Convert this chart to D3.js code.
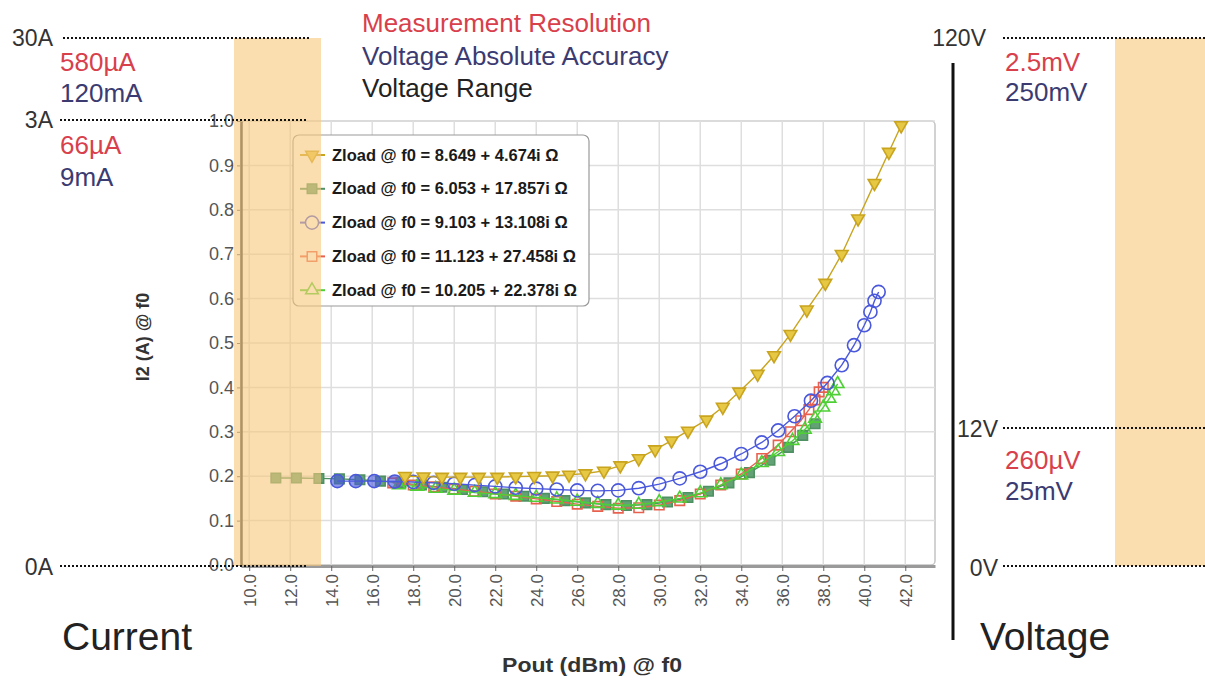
<!DOCTYPE html>
<html>
<head>
<meta charset="utf-8">
<script src="https://cdn.jsdelivr.net/npm/d3@7"></script>
<style>
  body { margin: 0; background: #fff; }
  svg { display: block; font-family: "Liberation Sans", Arial, sans-serif; }
</style>
</head>
<body>
<svg id="chart" width="1205" height="691"></svg>
<script>
// Axis ticks
const xTicks = [10, 12, 14, 16, 18, 20, 22, 24, 26, 28, 30, 32, 34, 36, 38, 40, 42];
const yTicks = [0, 0.1, 0.2, 0.3, 0.4, 0.5, 0.6, 0.7, 0.8, 0.9, 1.0];

// Legend labels
const seriesNames = [
  "Zload @ f0 = 8.649 + 4.674i Ω",
  "Zload @ f0 = 6.053 + 17.857i Ω",
  "Zload @ f0 = 9.103 + 13.108i Ω",
  "Zload @ f0 = 11.123 + 27.458i Ω",
  "Zload @ f0 = 10.205 + 22.378i Ω"
];

// Series 1 (yellow, down triangles)
const s1Pout = [17.6, 18.5, 19.4, 20.3, 21.2, 22.1, 23.0, 23.9, 24.8, 25.6, 26.4, 27.3, 28.1, 29.0, 29.8,
                30.6, 31.4, 32.3, 33.1, 33.9, 34.8, 35.6, 36.4, 37.2, 38.1, 38.9, 39.7, 40.5, 41.2, 41.8];
const s1I2   = [0.200, 0.199, 0.198, 0.198, 0.198, 0.198, 0.199, 0.200, 0.201, 0.203, 0.206, 0.212, 0.224, 0.240, 0.260,
                0.280, 0.302, 0.327, 0.356, 0.390, 0.430, 0.472, 0.520, 0.575, 0.635, 0.700, 0.780, 0.860, 0.930, 0.990];

// Series 2 (green, filled squares)
const s2Pout = [11.3, 12.3, 13.4, 14.4, 15.4, 16.4, 17.4, 18.4, 19.4, 20.4, 21.4, 22.4, 23.4, 24.4, 25.4, 26.4,
                27.4, 28.4, 29.4, 30.4, 31.4, 32.4, 33.4, 34.4, 35.4, 36.3, 37.0, 37.6];
const s2I2   = [0.196, 0.196, 0.195, 0.194, 0.192, 0.189, 0.185, 0.180, 0.175, 0.170, 0.165, 0.160, 0.155, 0.150, 0.145, 0.140,
                0.136, 0.134, 0.136, 0.142, 0.152, 0.166, 0.185, 0.208, 0.236, 0.265, 0.292, 0.318];

// Series 3 (blue, open circles)
const s3Pout = [14.3, 15.2, 16.1, 17.1, 18.0, 19.0, 20.0, 21.0, 22.0, 23.0, 24.0, 25.0, 26.0, 27.0, 28.0, 29.0,
                30.0, 31.0, 32.0, 33.0, 34.0, 35.0, 35.8, 36.6, 37.4, 38.2, 38.9, 39.5, 40.0, 40.3, 40.5, 40.7];
const s3I2   = [0.189, 0.189, 0.189, 0.188, 0.187, 0.185, 0.183, 0.180, 0.177, 0.174, 0.172, 0.170, 0.168, 0.167, 0.168, 0.173,
                0.182, 0.195, 0.210, 0.228, 0.250, 0.276, 0.303, 0.335, 0.370, 0.410, 0.450, 0.495, 0.540, 0.570, 0.595, 0.615];

// Series 4 (red, open squares)
const s4Pout = [17.0, 18.0, 19.0, 20.0, 21.0, 22.0, 23.0, 24.0, 25.0, 26.0, 27.0, 28.0, 29.0, 30.0, 31.0, 32.0,
                33.0, 34.0, 35.0, 35.8, 36.4, 36.9, 37.3, 37.6, 37.8, 38.0];
const s4I2   = [0.185, 0.180, 0.176, 0.171, 0.166, 0.160, 0.155, 0.149, 0.143, 0.137, 0.132, 0.128, 0.129, 0.135, 0.145, 0.160,
                0.180, 0.205, 0.240, 0.270, 0.300, 0.325, 0.350, 0.372, 0.390, 0.400];

// Series 5 (light green, open triangles)
const s5Pout = [17.3, 18.2, 19.1, 20.0, 21.0, 22.0, 23.0, 24.0, 25.0, 26.0, 27.0, 28.0, 29.0, 30.0, 31.0, 32.0,
                33.0, 34.0, 35.0, 35.8, 36.5, 37.1, 37.6, 38.0, 38.3, 38.5, 38.7];
const s5I2   = [0.180, 0.177, 0.172, 0.168, 0.163, 0.160, 0.156, 0.152, 0.148, 0.143, 0.138, 0.134, 0.136, 0.142, 0.150, 0.162,
                0.180, 0.202, 0.230, 0.255, 0.280, 0.305, 0.330, 0.355, 0.375, 0.392, 0.408];

const svg = d3.select("#chart");

const x = d3.scaleLinear().domain([9.6, 43.45]).range([241, 935]);
const y = d3.scaleLinear().domain([0, 1]).range([565, 121]);

const zip = (a, b) => a.map((v, i) => [v, b[i]]);

const series = [
  { name: seriesNames[0], data: zip(s1Pout, s1I2), color: "#c9a41f", fill: "#e6c844", shape: "down" },
  { name: seriesNames[1], data: zip(s2Pout, s2I2), color: "#4f9162", fill: "#62a274", shape: "fsquare" },
  { name: seriesNames[2], data: zip(s3Pout, s3I2), color: "#4a58dc", fill: "none", shape: "circle" },
  { name: seriesNames[3], data: zip(s4Pout, s4I2), color: "#e8614f", fill: "none", shape: "square" },
  { name: seriesNames[4], data: zip(s5Pout, s5I2), color: "#4fcf36", fill: "none", shape: "up" }
];

function symbolPath(shape) {
  if (shape === "down" || shape === "up") return d3.symbol().type(d3.symbolTriangle).size(70)();
  if (shape === "circle") return d3.symbol().type(d3.symbolCircle).size(135)();
  return d3.symbol().type(d3.symbolSquare).size(90)();
}

// plot background + grid
svg.append("rect").attr("x", 241).attr("y", 121).attr("width", 694).attr("height", 444)
  .attr("fill", "#fff").attr("stroke", "#c4c4c4").attr("stroke-width", 1.5).attr("rx", 4);

svg.append("g").selectAll("line").data(xTicks).join("line")
  .attr("x1", d => x(d)).attr("x2", d => x(d)).attr("y1", 121).attr("y2", 565)
  .attr("stroke", "#dedede").attr("stroke-width", 1.5);
svg.append("g").selectAll("line").data(yTicks.slice(1)).join("line")
  .attr("x1", 241).attr("x2", 935).attr("y1", d => y(d)).attr("y2", d => y(d))
  .attr("stroke", "#dedede").attr("stroke-width", 1.5);

// axes
const xAxis = svg.append("g").attr("transform", "translate(0,566)")
  .call(d3.axisBottom(x).tickValues(xTicks).tickFormat(d3.format(".1f")).tickSize(5).tickSizeOuter(0));
xAxis.select(".domain").attr("stroke", "#9a9a9a").attr("stroke-width", 3);
xAxis.selectAll(".tick line").attr("stroke", "#666");
xAxis.selectAll("text")
  .attr("transform", "rotate(-90)").attr("text-anchor", "end")
  .attr("x", -8).attr("y", 0).attr("dy", "0.35em")
  .attr("font-size", 17).attr("fill", "#555").attr("font-family", "Liberation Sans, Arial, sans-serif");

const yAxis = svg.append("g").attr("transform", "translate(241,0)")
  .call(d3.axisLeft(y).tickValues(yTicks).tickFormat(d3.format(".1f")).tickSize(4).tickSizeOuter(0));
yAxis.select(".domain").attr("stroke", "#444").attr("stroke-width", 2.5);
yAxis.selectAll(".tick line").attr("stroke", "#666");
yAxis.selectAll("text").attr("font-size", 18).attr("fill", "#555")
  .attr("font-family", "Liberation Sans, Arial, sans-serif");

// series lines and markers (draw order so blue/yellow sit on top)
const drawOrder = [1, 3, 4, 2, 0];
const line = d3.line().x(d => x(d[0])).y(d => y(d[1]));
drawOrder.forEach(i => {
  const s = series[i];
  const g = svg.append("g");
  g.append("path").datum(s.data).attr("d", line)
    .attr("fill", "none").attr("stroke", s.color).attr("stroke-width", 1.4);
  g.selectAll("path.m").data(s.data).join("path").attr("class", "m")
    .attr("d", symbolPath(s.shape))
    .attr("transform", d => `translate(${x(d[0])},${y(d[1])})` + (s.shape === "down" ? " rotate(180)" : ""))
    .attr("fill", d => (s.shape === "circle" && d[0] < 17.5) ? s.color : s.fill)
    .attr("fill-opacity", s.fill === "none" ? 0.6 : 1)
    .attr("stroke", s.color).attr("stroke-width", 1.6);
});

// legend
const lg = svg.append("g");
lg.append("rect").attr("x", 293).attr("y", 135).attr("width", 296).attr("height", 171).attr("rx", 6)
  .attr("fill", "#fff").attr("stroke", "#9a9a9a").attr("stroke-width", 1.2);
series.forEach((s, i) => {
  const cy = 155 + i * 33.8;
  lg.append("line").attr("x1", 300).attr("x2", 325).attr("y1", cy).attr("y2", cy)
    .attr("stroke", s.color).attr("stroke-width", 2);
  lg.append("path").attr("d", symbolPath(s.shape))
    .attr("transform", `translate(312,${cy})` + (s.shape === "down" ? " rotate(180)" : ""))
    .attr("fill", s.fill === "none" ? "#fff" : s.fill).attr("stroke", s.color).attr("stroke-width", 1.5);
  lg.append("text").attr("x", 332).attr("y", cy + 5.5).text(s.name)
    .attr("font-size", 16.5).attr("font-weight", "bold").attr("fill", "#1a1a1a");
});

// axis titles
svg.append("text").attr("transform", "translate(149,337) rotate(-90)").attr("text-anchor", "middle")
  .attr("font-size", 18).attr("font-weight", "bold").attr("fill", "#333").text("I2 (A) @ f0");
svg.append("text").attr("x", 592).attr("y", 672).attr("text-anchor", "middle")
  .attr("font-size", 20).attr("font-weight", "bold").attr("fill", "#333")
  .attr("textLength", 180).attr("lengthAdjust", "spacingAndGlyphs").text("Pout (dBm) @ f0");

// orange range bands drawn over the plot
svg.append("rect").attr("x", 234).attr("y", 38).attr("width", 87).attr("height", 528)
  .attr("fill", "#f8c87b").attr("opacity", 0.6);
svg.append("rect").attr("x", 1115).attr("y", 38).attr("width", 90).attr("height", 528)
  .attr("fill", "#f8c87b").attr("opacity", 0.6);

// dotted range lines
const dotted = (x1, x2, yy) => svg.append("line").attr("x1", x1).attr("x2", x2).attr("y1", yy).attr("y2", yy)
  .attr("stroke", "#111").attr("stroke-width", 2).attr("stroke-dasharray", "2,2");
dotted(63, 310, 38);
dotted(60, 307, 120);
dotted(60, 307, 566);
dotted(1003, 1205, 38);
dotted(1003, 1205, 428);
dotted(1003, 1205, 566);

// right vertical bar
svg.append("line").attr("x1", 953).attr("x2", 953).attr("y1", 63).attr("y2", 640)
  .attr("stroke", "#111").attr("stroke-width", 3);

const red = "#d8404c", navy = "#3b3b72", dark = "#333";
const label = (tx, ty, txt, col, size, anchor) => svg.append("text").attr("x", tx).attr("y", ty)
  .attr("fill", col).attr("font-size", size).attr("text-anchor", anchor || "start").text(txt);

// current annotations
label(53, 46, "30A", dark, 23, "end");
label(60, 71, "580µA", red, 26);
label(60, 102, "120mA", navy, 26);
label(53, 128, "3A", dark, 23, "end");
label(60, 154, "66µA", red, 26);
label(60, 186, "9mA", navy, 26);
label(53, 575, "0A", dark, 23, "end");
label(62, 650, "Current", "#222", 39);

// header annotations
label(362, 32, "Measurement Resolution", red, 26);
label(362, 65, "Voltage Absolute Accuracy", navy, 26);
label(362, 97, "Voltage Range", "#222", 26);

// voltage annotations
label(986, 46, "120V", dark, 23, "end");
label(1005, 71, "2.5mV", red, 26);
label(1005, 101, "250mV", navy, 26);
label(998, 437, "12V", dark, 23, "end");
label(1005, 469, "260µV", red, 26);
label(1005, 500, "25mV", navy, 26);
label(998, 576, "0V", dark, 23, "end");
label(980, 650, "Voltage", "#222", 39);
</script>
</body>
</html>
